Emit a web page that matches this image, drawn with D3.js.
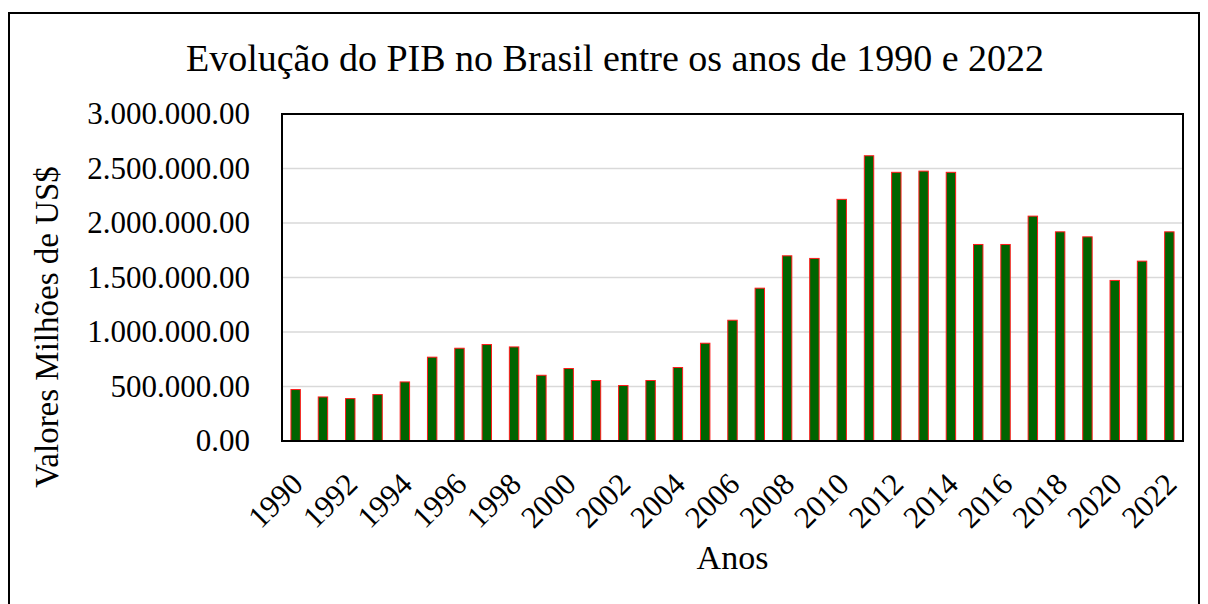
<!DOCTYPE html>
<html lang="pt">
<head>
  <meta charset="UTF-8">
  <title>Evolução do PIB no Brasil</title>
  <script src="https://cdn.jsdelivr.net/npm/d3@7"></script>
  <style>
    body { margin: 0; background: #fff; }
    text { font-family: "Liberation Serif", "Times New Roman", serif; fill: #000; }
  </style>
</head>
<body>
  <svg width="1208" height="604"></svg>
  <script>
    // dados (milhões de US$)
    const anos = d3.range(1990, 2023).map(String);
    const pib = [
      472000, 404000, 389000, 426000, 542000, 769000, 851000, 885000, 863000, 603000,
      665000, 555000, 509000, 555000, 674000, 897000, 1108000, 1402000, 1699000, 1675000,
      2217000, 2617000, 2465000, 2476000, 2465000, 1803000, 1803000, 2063000, 1919000, 1873000,
      1473000, 1650000, 1919000
    ];
    const yTicks = [0, 500000, 1000000, 1500000, 2000000, 2500000, 3000000];
    const xLabels = anos.filter((d, i) => i % 2 === 0);

    const data = anos.map((a, i) => ({ ano: a, valor: pib[i] }));

    const svg = d3.select("svg");
    const m = { left: 282, right: 1183, top: 114, bottom: 441 };
    const serif = '"Liberation Serif", "Times New Roman", serif';

    // moldura externa
    svg.append("rect")
       .attr("x", 9).attr("y", 13)
       .attr("width", 1190).attr("height", 620)
       .attr("fill", "none").attr("stroke", "#000").attr("stroke-width", 2);

    const x = d3.scaleBand()
                .domain(anos)
                .range([m.left, m.right])
                .paddingInner(0.655)
                .paddingOuter(0.3275);

    const y = d3.scaleLinear()
                .domain([0, 3000000])
                .range([m.bottom, m.top]);

    const fmt = v => d3.format(",.2f")(v).replace(/,/g, ".");

    // grade
    svg.append("g")
       .selectAll("line")
       .data(yTicks.slice(1, -1))
       .enter().append("line")
       .attr("x1", m.left).attr("x2", m.right)
       .attr("y1", d => y(d)).attr("y2", d => y(d))
       .attr("stroke", "#d9d9d9").attr("stroke-width", 1.5);

    // barras
    svg.append("g")
       .selectAll("rect")
       .data(data)
       .enter().append("rect")
       .attr("x", d => x(d.ano))
       .attr("y", d => y(d.valor))
       .attr("width", x.bandwidth())
       .attr("height", d => y(0) - y(d.valor))
       .attr("fill", "#006400")
       .attr("stroke", "#ff1a1a")
       .attr("stroke-width", 1);

    // area do grafico
    svg.append("rect")
       .attr("x", m.left).attr("y", m.top)
       .attr("width", m.right - m.left).attr("height", m.bottom - m.top)
       .attr("fill", "none").attr("stroke", "#000").attr("stroke-width", 2);

    // eixo y
    const yAxis = svg.append("g")
       .attr("transform", `translate(${m.left},0)`)
       .call(d3.axisLeft(y).tickValues(yTicks).tickFormat(fmt).tickSize(0).tickPadding(32));
    yAxis.select(".domain").remove();
    yAxis.selectAll("text")
         .style("font-family", serif)
         .style("font-size", "31px")
         .attr("fill", "#000");

    // eixo x
    const xAxis = svg.append("g")
       .attr("transform", `translate(0,${m.bottom})`)
       .call(d3.axisBottom(x).tickValues(xLabels).tickSize(0));
    xAxis.select(".domain").remove();
    xAxis.selectAll("text")
         .style("font-family", serif)
         .style("font-size", "31px")
         .attr("fill", "#000")
         .attr("text-anchor", "end")
         .attr("y", 0).attr("dy", 0)
         .attr("transform", "translate(9,45) rotate(-45)");

    // titulos
    svg.append("text")
       .attr("x", 615).attr("y", 71)
       .attr("text-anchor", "middle")
       .style("font-size", "38px")
       .text("Evolução do PIB no Brasil entre os anos de 1990 e 2022");

    svg.append("text")
       .attr("x", (m.left + m.right) / 2).attr("y", 569)
       .attr("text-anchor", "middle")
       .style("font-size", "34px")
       .text("Anos");

    svg.append("text")
       .attr("transform", "translate(58,327) rotate(-90)")
       .attr("text-anchor", "middle")
       .style("font-size", "33px")
       .text("Valores Milhões de US$");
  </script>
</body>
</html>
